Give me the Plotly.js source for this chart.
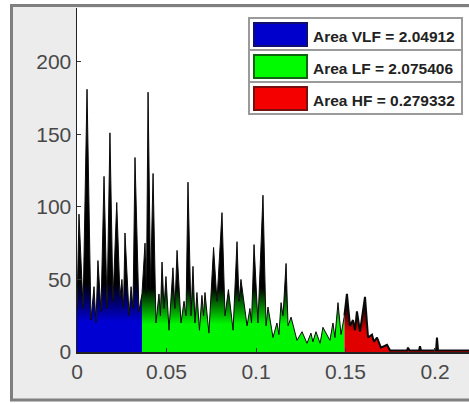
<!DOCTYPE html>
<html>
<head>
<meta charset="utf-8">
<script src="https://cdn.plot.ly/plotly-3.0.1.min.js"></script>
<style>html,body{margin:0;padding:0;background:#fff;}#chart{width:469px;height:403px;}</style>
</head>
<body>
<div id="chart"></div>
<script>
// ---- data ----
const vlfFreq = [0.0000,0.0011,0.0034,0.0056,0.0078,0.0095,0.0106,0.0117,0.0134,0.0151,0.0168,0.0184,0.0201,0.0222,0.0240,0.0251,0.0260,0.0268,0.0291,0.0302,0.0313,0.0324,0.0346,0.0363];
const vlfPower = [30,95,30,181,22,45,20,63,28,121,30,151,35,103,38,50,30,82,25,45,30,134,28,40];

const lfFreq = [0.0363,0.0380,0.0388,0.0397,0.0411,0.0425,0.0441,0.0458,0.0466,0.0475,0.0486,0.0497,0.0514,0.0536,0.0547,0.0559,0.0581,0.0598,0.0609,0.0620,0.0637,0.0648,0.0659,0.0670,0.0684,0.0698,0.0707,0.0715,0.0737,0.0763,0.0782,0.0810,0.0827,0.0846,0.0872,0.0894,0.0905,0.0916,0.0950,0.0966,0.0975,0.0989,0.1011,0.1039,0.1056,0.1067,0.1095,0.1117,0.1128,0.1140,0.1151,0.1168,0.1179,0.1196,0.1229,0.1257,0.1285,0.1307,0.1318,0.1335,0.1358,0.1374,0.1413,0.1430,0.1441,0.1458,0.1475,0.1494];
const lfPower = [40,75,40,179,45,123,20,40,25,62,30,52,15,58,30,70,20,35,25,117,25,59,20,41,15,39,25,41,13,72,35,96,25,43,15,76,35,50,18,30,20,74,20,108,18,31,10,20,12,34,25,61,18,24,8,14,6,13,7,14,6,17,8,20,10,34,12,25];

const hfFreq = [0.1494,0.1508,0.1525,0.1542,0.1553,0.1564,0.1581,0.1609,0.1626,0.1648,0.1659,0.1676,0.1698,0.1732,0.1749,0.1804,0.1844,0.1849,0.1858,0.1911,0.1916,0.1922,0.2006,0.2011,0.2017,0.2250];
const hfPower = [25,40,18,22,15,28,14,38,10,12,7,10,3,5,1,1,1,3,1,1,4,1,1,10,1,1];

const bandNames = ['VLF', 'LF', 'HF'];
const bandAreas = ['2.04912', '2.075406', '0.279332'];
const xTicks = [0, 0.05, 0.1, 0.15, 0.2];
const xTickText = ['0', '0.05', '0.1', '0.15', '0.2'];
const yTicks = [0, 50, 100, 150, 200];

// ---- styling ----
const W = 469, H = 403;
const M = {l: 77, r: 0, t: 8, b: 51};
const plotW = W - M.l - M.r, plotH = H - M.t - M.b;
const px = v => (v - M.l) / plotW;
const py = v => (H - M.b - v) / plotH;

const bandColors = ['rgb(0,0,210)', 'rgb(0,245,0)', 'rgb(225,0,0)'];
const swatchColors = ['rgb(0,0,205)', 'rgb(0,250,0)', 'rgb(245,0,0)'];
const swatchEdges = ['rgb(15,15,110)', 'rgb(15,100,15)', 'rgb(120,15,15)'];
const gradStops = [60, 55, 40];
const series = [[vlfFreq, vlfPower], [lfFreq, lfPower], [hfFreq, hfPower]];

const traces = series.map((s, i) => ({
  type: 'scatter', mode: 'lines', x: s[0], y: s[1],
  line: {color: 'rgb(10,10,10)', width: i === 2 ? 2 : 1},
  fill: 'tozeroy', fillcolor: bandColors[i],
  fillgradient: {type: 'vertical', start: 0, stop: gradStops[i],
    colorscale: [[0, bandColors[i]], [0.35, bandColors[i]], [0.8, 'rgb(0,0,0)'], [1, 'rgb(0,0,0)']]},
  hoverinfo: 'skip', showlegend: false
}));

const shapes = [
  {type: 'rect', xref: 'paper', yref: 'paper', x0: px(11.5), x1: px(480), y0: py(400), y1: py(5.5),
   fillcolor: '#ececec', line: {color: '#7f7f7f', width: 3}, layer: 'below'},
  {type: 'rect', xref: 'paper', yref: 'paper', x0: 0, x1: 1.05, y0: 0, y1: 1,
   fillcolor: '#ffffff', line: {width: 0}, layer: 'below'}
];
const annotations = [];
bandNames.forEach((name, i) => {
  const top = 18 + 32 * i;
  shapes.push({type: 'rect', xref: 'paper', yref: 'paper', x0: px(249), x1: px(462), y0: py(top + 32), y1: py(top),
    fillcolor: '#ffffff', line: {color: '#9a9a9a', width: 2}, layer: 'above'});
  shapes.push({type: 'rect', xref: 'paper', yref: 'paper', x0: px(254), x1: px(307), y0: py(top + 28), y1: py(top + 5),
    fillcolor: swatchColors[i], line: {color: swatchEdges[i], width: 2}, layer: 'above'});
  annotations.push({xref: 'paper', yref: 'paper', x: px(311), y: py(top + 18), xanchor: 'left', yanchor: 'middle',
    showarrow: false, text: 'Area ' + name + ' = ' + bandAreas[i],
    font: {family: 'Liberation Sans, Arial, sans-serif', size: 15.5, color: '#222', weight: 'bold'}});
});

const tickFont = {family: 'Liberation Sans, Arial, sans-serif', size: 21, color: '#484848'};
const layout = {
  width: W, height: H, margin: M,
  paper_bgcolor: '#ffffff', plot_bgcolor: '#ffffff',
  showlegend: false,
  xaxis: {range: [0, 0.219], tickvals: xTicks, ticktext: xTickText, ticks: 'inside', ticklen: 4,
    tickcolor: '#333', showline: true, linecolor: '#222', linewidth: 1.5, showgrid: false, zeroline: false,
    tickfont: tickFont, fixedrange: true},
  yaxis: {range: [0, 237], tickvals: yTicks, ticks: 'inside', ticklen: 4, tickcolor: '#333',
    showline: true, linecolor: '#222', linewidth: 1.5, showgrid: false, zeroline: false,
    tickfont: tickFont, fixedrange: true},
  shapes: shapes, annotations: annotations
};
Plotly.newPlot('chart', traces, layout, {displayModeBar: false, staticPlot: true});
</script>
</body>
</html>
